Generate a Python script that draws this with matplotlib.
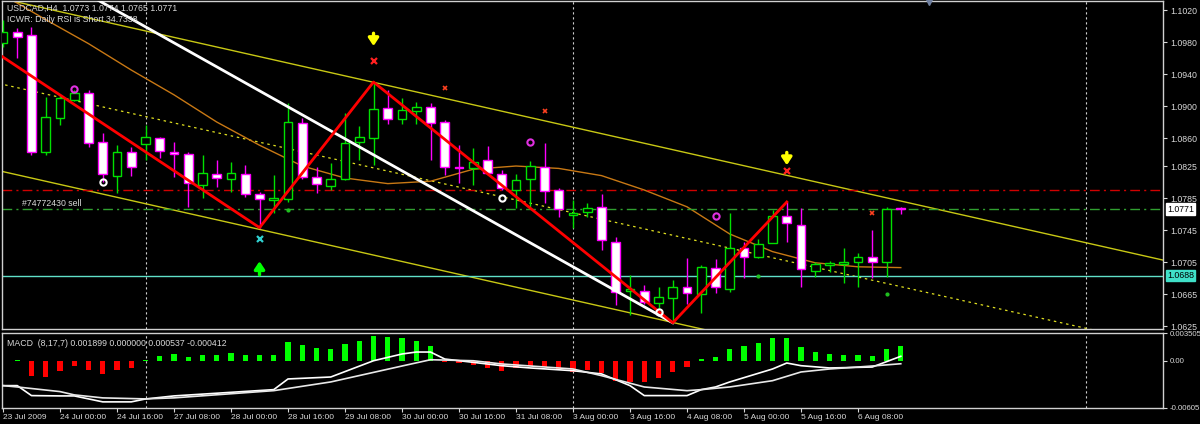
import numpy as np
import matplotlib.pyplot as plt
from matplotlib.patches import Rectangle
import matplotlib.transforms as mtransforms

plt.rcParams['font.family'] = ['Liberation Sans', 'DejaVu Sans']

# USDCAD H4 candles (bar 0 = 23 Jul 2009 08:00)
opens = [1.0979, 1.0992, 1.0989, 1.0843, 1.0885, 1.0908, 1.0916, 1.0855, 1.0813, 1.0843,
         1.0853, 1.0860, 1.0843, 1.0840, 1.0801, 1.0815, 1.0809, 1.0815, 1.0790, 1.0783,
         1.0784, 1.0879, 1.0811, 1.0800, 1.0809, 1.0855, 1.0860, 1.0898, 1.0884, 1.0894,
         1.0899, 1.0880, 1.0824, 1.0823, 1.0833, 1.0815, 1.0795, 1.0809, 1.0824, 1.0795,
         1.0764, 1.0768, 1.0774, 1.0730, 1.0669, 1.0669, 1.0654, 1.0660, 1.0674, 1.0665,
         1.0698, 1.0671, 1.0723, 1.0711, 1.0729, 1.0763, 1.0751, 1.0694, 1.0701, 1.0703,
         1.0705, 1.0711, 1.0705, 1.0773]
highs = [1.1008, 1.0998, 1.0999, 1.0911, 1.0914, 1.0920, 1.0920, 1.0866, 1.0851, 1.0849,
         1.0876, 1.0861, 1.0855, 1.0843, 1.0839, 1.0833, 1.0830, 1.0826, 1.0793, 1.0814,
         1.0904, 1.0885, 1.0824, 1.0829, 1.0891, 1.0875, 1.0930, 1.0920, 1.0910, 1.0905,
         1.0904, 1.0883, 1.0851, 1.0848, 1.0850, 1.0820, 1.0815, 1.0831, 1.0854, 1.0798,
         1.0783, 1.0779, 1.0790, 1.0736, 1.0689, 1.0676, 1.0674, 1.0683, 1.0710, 1.0701,
         1.0709, 1.0766, 1.0730, 1.0734, 1.0770, 1.0780, 1.0773, 1.0705, 1.0706, 1.0723,
         1.0716, 1.0745, 1.0774, 1.0774]
lows = [1.0974, 1.0960, 1.0839, 1.0839, 1.0876, 1.0906, 1.0849, 1.0805, 1.0791, 1.0813,
        1.0833, 1.0835, 1.0811, 1.0774, 1.0785, 1.0799, 1.0793, 1.0786, 1.0748, 1.0766,
        1.0780, 1.0809, 1.0791, 1.0795, 1.0808, 1.0833, 1.0826, 1.0878, 1.0878, 1.0878,
        1.0833, 1.0814, 1.0804, 1.0801, 1.0814, 1.0795, 1.0773, 1.0774, 1.0779, 1.0761,
        1.0748, 1.0761, 1.0720, 1.0651, 1.0639, 1.0653, 1.0648, 1.0629, 1.0653, 1.0641,
        1.0666, 1.0668, 1.0685, 1.0710, 1.0729, 1.0730, 1.0674, 1.0686, 1.0693, 1.0679,
        1.0674, 1.0685, 1.0686, 1.0765]
closes = [1.0992, 1.0986, 1.0843, 1.0886, 1.0910, 1.0916, 1.0854, 1.0815, 1.0843, 1.0824,
          1.0861, 1.0844, 1.0840, 1.0804, 1.0816, 1.0810, 1.0816, 1.0790, 1.0784, 1.0785,
          1.0880, 1.0811, 1.0803, 1.0809, 1.0854, 1.0861, 1.0896, 1.0884, 1.0895, 1.0899,
          1.0879, 1.0824, 1.0823, 1.0830, 1.0816, 1.0798, 1.0808, 1.0825, 1.0794, 1.0771,
          1.0766, 1.0773, 1.0733, 1.0668, 1.0671, 1.0655, 1.0661, 1.0674, 1.0666, 1.0699,
          1.0674, 1.0723, 1.0711, 1.0728, 1.0763, 1.0754, 1.0696, 1.0703, 1.0704, 1.0705,
          1.0711, 1.0705, 1.0771, 1.0771]

# orange moving average (sampled)
ma_bars = [0, 3, 6, 9, 12, 15, 18, 21, 24, 27, 30, 33, 36, 39, 42, 45, 48, 51, 54, 57, 60, 63]
ma_vals = [1.1039, 1.1008, 1.0978, 1.0945, 1.0914, 1.0880, 1.0851, 1.0825, 1.0810, 1.0803, 1.0806,
           1.0821, 1.0825, 1.0822, 1.0813, 1.0795, 1.0774, 1.0740, 1.0718, 1.0704, 1.0699, 1.0698]

# regression channel
chan_bars = [-1, 82]
chan_upper = [1.1038, 1.0705]
chan_mid = [1.0931, 1.0598]
chan_lower = [1.0822, 1.0489]

# zigzag and white trendline
zz_bars = [-1, 18, 26, 47, 55]
zz_prices = [1.0973, 1.0748, 1.0930, 1.0629, 1.0780]
tl_bars = [0, 47]
tl_prices = [1.1099, 1.0629]

# horizontal levels
level_red = 1.0795
level_sell = 1.0771
level_cyan = 1.0688
bid = 1.0771

# signals
arrow_dn_bars = [26, 55]
arrow_dn_tail = [1.0991, 1.0842]
arrow_dn_tip = [1.0975, 1.0826]
arrow_up_bars = [18]
arrow_up_tail = [1.0689]
arrow_up_tip = [1.0706]
xred_bars = [26, 55]
xred_prices = [1.0956, 1.0819]
xsmall_bars = [38, 31, 61]
xsmall_prices = [1.0894, 1.0922, 1.0766]
xcyan_bars = [18]
xcyan_prices = [1.0734]
mag_bars = [5, 37, 50]
mag_prices = [1.0921, 1.0855, 1.0763]
ring_bars = [7, 35, 46]
ring_prices = [1.0805, 1.0785, 1.0642]
dot_bars = [20, 53, 62]
dot_prices = [1.0770, 1.0687, 1.0665]

# MACD (8,17,7)
hist = [np.nan, 0.00008, -0.00197, -0.00210, -0.00133, -0.00070, -0.00121, -0.00171, -0.00121, -0.00095,
        0.00008, 0.00057, 0.00083, 0.00044, 0.00070, 0.00070, 0.00095, 0.00070, 0.00070, 0.00070,
        0.00235, 0.00197, 0.00159, 0.00146, 0.00210, 0.00248, 0.00311, 0.00298, 0.00286, 0.00248,
        0.00184, -0.00019, -0.00032, -0.00057, -0.00095, -0.00133, -0.00095, -0.00070, -0.00083, -0.00108,
        -0.00146, -0.00121, -0.00159, -0.00260, -0.00273, -0.00273, -0.00222, -0.00146, -0.00083, 0.00019,
        0.00044, 0.00146, 0.00184, 0.00222, 0.00286, 0.00286, 0.00171, 0.00108, 0.00083, 0.00070,
        0.00070, 0.00057, 0.00146, 0.001899]
line_a_bars = [0, 1, 2, 4, 5, 7, 9, 10, 12, 19, 20, 23, 26, 28, 29, 30, 31, 35, 37, 40, 42, 44, 45,
               48, 49, 50, 51, 54, 55, 56, 58, 61, 63]
line_a = [-0.00320, -0.00320, -0.00447, -0.00451, -0.00451, -0.00527, -0.00527, -0.00490, -0.00451,
          -0.00371, -0.00235, -0.00210, -0.00003, 0.00083, 0.00108, 0.00108, 0.00019, -0.00066, -0.00095,
          -0.00130, -0.00171, -0.00320, -0.00447, -0.00447, -0.00371, -0.00337, -0.00273, -0.00108,
          -0.00032, -0.00066, -0.00095, -0.00083, 0.000537]
line_b_bars = [0, 1, 4, 5, 7, 10, 12, 19, 23, 28, 30, 33, 35, 40, 42, 45, 48, 49, 51, 54, 56, 58, 61, 63]
line_b = [-0.00320, -0.00337, -0.00396, -0.00438, -0.00476, -0.00489, -0.00476, -0.00384, -0.00273,
          -0.00070, 0.00010, -0.00003, -0.00044, -0.00108, -0.00193, -0.00337, -0.00384, -0.00371,
          -0.00337, -0.00257, -0.00146, -0.00108, -0.00070, -0.000412]

time_labels = ['23 Jul 2009', '24 Jul 00:00', '24 Jul 16:00', '27 Jul 08:00', '28 Jul 00:00',
               '28 Jul 16:00', '29 Jul 08:00', '30 Jul 00:00', '30 Jul 16:00', '31 Jul 08:00',
               '3 Aug 00:00', '3 Aug 16:00', '4 Aug 08:00', '5 Aug 00:00', '5 Aug 16:00', '6 Aug 08:00']
label_bars = list(range(0, 61, 4))
separators = [10, 40, 76]
price_ticks = [1.1020, 1.0980, 1.0940, 1.0900, 1.0860, 1.0825, 1.0785, 1.0745, 1.0705, 1.0665, 1.0625]
macd_ticks = [0.003505, 0.0, -0.00605]
macd_ticklabels = ['0.003505', '0.00', '-0.00605']

TXT = '#d8d8d8'
W, H = 1200, 424
fig = plt.figure(figsize=(12, 4.24), dpi=100, facecolor='black')
ax = fig.add_axes([2 / W, 1 - 329 / H, 1161 / W, 328 / H], facecolor='black')
ax2 = fig.add_axes([2 / W, 1 - 408 / H, 1161 / W, 75 / H], facecolor='black')

xlim = (-0.07, 81.4)
for a in (ax, ax2):
    a.set_xlim(*xlim)
    for s in a.spines.values():
        s.set_color('#d0d0d0')
        s.set_linewidth(1)
    for b in separators:
        a.axvline(b, color='#d0d0d0', lw=0.8, ls=(0, (2, 2.5)), zorder=1)

ax.set_ylim(1.062125, 1.10313)

# channel
ax.plot(chan_bars, chan_upper, color='#c8c814', lw=1, zorder=2)
ax.plot(chan_bars, chan_lower, color='#c8c814', lw=1, zorder=2)
ax.plot(chan_bars, chan_mid, color='#e0e020', lw=0.9, ls=(0, (2, 3)), zorder=2)
ax.plot(ma_bars, ma_vals, color='#c87814', lw=1, zorder=2)

# levels
ax.axhline(level_red, color='#d00000', lw=1, ls=(0, (7, 3, 1.5, 3)), zorder=2)
ax.axhline(level_sell, color='#30a030', lw=1, ls=(0, (7, 3, 1.5, 3)), zorder=2)
ax.axhline(level_cyan, color='#60e0c8', lw=1, zorder=2)

# candles
bw = 0.62
for i in range(len(opens)):
    o, h, l, c = opens[i], highs[i], lows[i], closes[i]
    if c >= o:
        col, fill = '#00e000', 'black'
    else:
        col, fill = '#ff00ff', 'white'
    ax.vlines(i, l, h, color=col, lw=1, zorder=3)
    ax.add_patch(Rectangle((i - bw / 2, min(o, c)), bw, max(abs(c - o), 0.00005),
                           facecolor=fill, edgecolor=col, lw=1, zorder=4))

ax.plot(tl_bars, tl_prices, color='white', lw=2, zorder=5)
ax.plot(zz_bars, zz_prices, color='#ff0000', lw=2, zorder=6)

# signals
astyle = '-|>,head_width=0.3,head_length=0.45'
for b, t0, t1 in zip(arrow_dn_bars, arrow_dn_tail, arrow_dn_tip):
    ax.annotate('', xy=(b, t1), xytext=(b, t0),
                arrowprops=dict(arrowstyle=astyle, color='#ffff00', lw=2.4, shrinkA=0, shrinkB=0,
                                mutation_scale=10), zorder=7)
for b, t0, t1 in zip(arrow_up_bars, arrow_up_tail, arrow_up_tip):
    ax.annotate('', xy=(b, t1), xytext=(b, t0),
                arrowprops=dict(arrowstyle=astyle, color='#00ff00', lw=2.4, shrinkA=0, shrinkB=0,
                                mutation_scale=10), zorder=7)
ax.plot(xred_bars, xred_prices, 'x', color='#ff2020', ms=5, mew=1.6, zorder=7)
ax.plot(xsmall_bars, xsmall_prices, 'x', color='#ff4020', ms=3.5, mew=1.2, zorder=7)
ax.plot(xcyan_bars, xcyan_prices, 'x', color='#30d0d0', ms=5, mew=1.6, zorder=7)
ax.plot(mag_bars, mag_prices, 'o', mfc='none', mec='#e030e0', ms=4.5, mew=1.5, zorder=7)
ax.plot(ring_bars, ring_prices, 'o', mfc='none', mec='white', ms=4.5, mew=1.5, zorder=7)
ax.plot(dot_bars, dot_prices, 'o', color='#20c020', ms=2, zorder=7)
ax.plot([65], [1], 'v', color='#7080a0', ms=6, transform=ax.get_xaxis_transform(),
        clip_on=False, zorder=8)

# price axis
ax.set_xticks([])
ax.yaxis.tick_right()
ax.set_yticks(price_ticks, [f'{p:.4f}' for p in price_ticks])
ax.tick_params(axis='y', colors=TXT, labelsize=6.3, length=3, pad=2)
tr = mtransforms.blended_transform_factory(ax.transAxes, ax.transData)
ax.text(1.0035, bid, f'{bid:.4f}', transform=tr, fontsize=6.3, color='black', va='center', ha='left',
        bbox=dict(boxstyle='square,pad=0.15', fc='white', ec='white'), zorder=9)
ax.text(1.0035, level_cyan, f'{level_cyan:.4f}', transform=tr, fontsize=6.3, color='black',
        va='center', ha='left', bbox=dict(boxstyle='square,pad=0.15', fc='#40e0c8', ec='#40e0c8'), zorder=9)
ax.text(0.017, level_sell + 0.0001, '#74772430 sell', transform=tr, fontsize=6.3, color=TXT,
        va='bottom', ha='left')

fig.text(7 / W, 1 - 8 / H, 'USDCAD,H4  1.0773 1.0774 1.0765 1.0771', fontsize=6.3, color=TXT,
         va='center', ha='left')
fig.text(7 / W, 1 - 19 / H, 'ICWR: Daily RSI is Short 34.7338', fontsize=6.3, color=TXT,
         va='center', ha='left')

# MACD panel
bars = np.arange(len(hist))
hvals = np.array(hist)
hcol = ['#00ff00' if v >= 0 else '#ff0000' for v in np.nan_to_num(hvals)]
ax2.bar(bars, hvals, width=0.36, color=hcol, zorder=3)
ax2.plot(line_a_bars, line_a, color='white', lw=1.2, zorder=4)
ax2.plot(line_b_bars, line_b, color='#e8e8e8', lw=1.2, zorder=4)
ax2.set_ylim(-0.00605, 0.003505)
ax2.yaxis.tick_right()
ax2.set_yticks(macd_ticks, macd_ticklabels)
ax2.tick_params(axis='y', colors=TXT, labelsize=5.6, length=3, pad=1.5)
ax2.set_xticks(label_bars, time_labels, ha='left')
ax2.tick_params(axis='x', colors=TXT, labelsize=6, length=3, pad=1)
fig.text(7 / W, 1 - 343 / H, 'MACD  (8,17,7) 0.001899 0.000000 0.000537 -0.000412', fontsize=6.3,
         color=TXT, va='center', ha='left')

fig.savefig('out.png', dpi=100, facecolor='black')
